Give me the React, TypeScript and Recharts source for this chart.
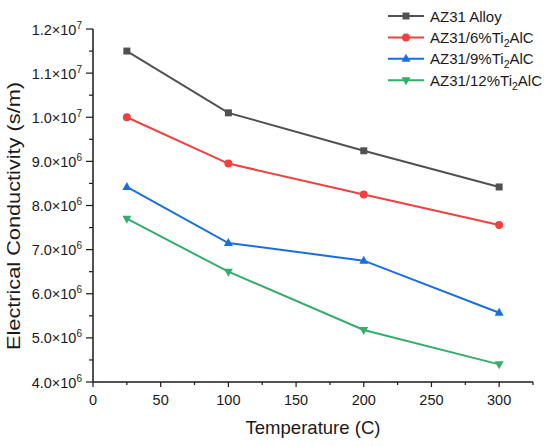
import { LineChart, Line, XAxis, YAxis } from "recharts";

const temperatures = [25, 100, 200, 300];
const alloy = [1.15e7, 1.01e7, 9.24e6, 8.42e6];
const ti6 = [1.0e7, 8.95e6, 8.25e6, 7.56e6];
const ti9 = [8.42e6, 7.15e6, 6.75e6, 5.57e6];
const ti12 = [7.7e6, 6.5e6, 5.18e6, 4.4e6];

const xTicks = [0, 25, 50, 75, 100, 125, 150, 175, 200, 225, 250, 275, 300, 325];
const yTicks = [
  4e6, 4.5e6, 5e6, 5.5e6, 6e6, 6.5e6, 7e6, 7.5e6, 8e6, 8.5e6, 9e6, 9.5e6,
  1e7, 1.05e7, 1.1e7, 1.15e7, 1.2e7,
];

const series = [
  { key: "alloy", name: "AZ31 Alloy", sub: false, color: "#515151", shape: "square" },
  { key: "ti6", name: "AZ31/6%Ti", sub: true, color: "#F14040", shape: "circle" },
  { key: "ti9", name: "AZ31/9%Ti", sub: true, color: "#1A6FDF", shape: "up" },
  { key: "ti12", name: "AZ31/12%Ti", sub: true, color: "#37AD6B", shape: "down" },
];

const data = temperatures.map((t, i) => ({
  t,
  alloy: alloy[i],
  ti6: ti6[i],
  ti9: ti9[i],
  ti12: ti12[i],
}));

const FONT = "'Liberation Sans', Arial, sans-serif";
const INK = "#1a1a1a";

function Marker({ cx, cy, shape, color }: { cx: number; cy: number; shape: string; color: string }) {
  if (shape === "square") {
    return <rect x={cx - 3.5} y={cy - 3.5} width={7} height={7} fill={color} />;
  }
  if (shape === "circle") {
    return <circle cx={cx} cy={cy} r={4} fill={color} />;
  }
  if (shape === "up") {
    return <path d={`M${cx},${cy - 5}L${cx + 4.5},${cy + 3}L${cx - 4.5},${cy + 3}Z`} fill={color} />;
  }
  return <path d={`M${cx},${cy + 5}L${cx + 4.5},${cy - 3}L${cx - 4.5},${cy - 3}Z`} fill={color} />;
}

const XTick = ({ x, y, payload }: any) => {
  const v = payload.value;
  const major = v % 50 === 0;
  return (
    <g>
      <line x1={x} y1={y} x2={x} y2={y + (major ? 5 : 3)} stroke={INK} strokeWidth={1.2} />
      {major && v <= 300 && (
        <text x={x} y={y + 23} textAnchor="middle" fontSize={14.5} fontFamily={FONT} fill={INK}>
          {v}
        </text>
      )}
    </g>
  );
};

const YTick = ({ x, y, payload }: any) => {
  const v = payload.value;
  const major = Math.round(v / 1e5) % 10 === 0;
  const exp = Math.floor(Math.log10(v) + 1e-9);
  const mant = (v / Math.pow(10, exp)).toFixed(1);
  return (
    <g>
      <line x1={x - (major ? 7 : 4)} y1={y} x2={x} y2={y} stroke={INK} strokeWidth={1.2} />
      {major && (
        <text x={x - 11} y={y + 5.5} textAnchor="end" fontSize={14.5} fontFamily={FONT} fill={INK}>
          {mant}×10
          <tspan dy={-6} fontSize={10}>
            {exp}
          </tspan>
        </text>
      )}
    </g>
  );
};

const XTitle = () => (
  <text
    x={313}
    y={434}
    textAnchor="middle"
    fontSize={18.5}
    fontFamily={FONT}
    fill={INK}
    textLength={135}
    lengthAdjust="spacingAndGlyphs"
  >
    Temperature (C)
  </text>
);

const YTitle = () => (
  <text
    transform="translate(20,216) rotate(-90)"
    textAnchor="middle"
    fontSize={18}
    fontFamily={FONT}
    fill={INK}
    textLength={268}
    lengthAdjust="spacingAndGlyphs"
  >
    Electrical Conductivity (s/m)
  </text>
);

const LegendBox = () => (
  <svg width={165} height={92} style={{ display: "block" }}>
    {series.map((s, i) => {
      const y = 10 + i * 21.4;
      return (
        <g key={s.key}>
          <line x1={1} y1={y} x2={37} y2={y} stroke={s.color} strokeWidth={2} />
          <Marker cx={19} cy={y} shape={s.shape} color={s.color} />
          <text x={43} y={y + 5.5} fontSize={15} fontFamily={FONT} fill={INK}>
            {s.name}
            {s.sub && (
              <>
                <tspan dy={4} fontSize={10.5}>
                  2
                </tspan>
                <tspan dy={-4}>AlC</tspan>
              </>
            )}
          </text>
        </g>
      );
    })}
  </svg>
);

export default function App() {
  return (
    <div style={{ position: "absolute", left: 0, top: 0, width: 550, height: 446, background: "#fff" }}>
      <LineChart
        width={550}
        height={446}
        data={data}
        margin={{ top: 29, right: 17, bottom: 0, left: 0 }}
      >
        <XAxis
          dataKey="t"
          type="number"
          domain={[0, 325]}
          ticks={xTicks}
          interval={0}
          tick={<XTick />}
          tickSize={0}
          tickMargin={0}
          tickLine={false}
          height={64}
          axisLine={{ stroke: INK, strokeWidth: 1.5 }}
          label={<XTitle />}
        />
        <YAxis
          type="number"
          domain={[4e6, 1.2e7]}
          ticks={yTicks}
          interval={0}
          tick={<YTick />}
          tickSize={0}
          tickMargin={0}
          tickLine={false}
          width={93}
          axisLine={{ stroke: INK, strokeWidth: 1.5 }}
          label={<YTitle />}
        />
        {series.map((s) => (
          <Line
            key={s.key}
            dataKey={s.key}
            name={s.name}
            stroke={s.color}
            strokeWidth={2}
            isAnimationActive={false}
            dot={(p: any) => (
              <Marker key={`${s.key}-${p.index}`} cx={p.cx} cy={p.cy} shape={s.shape} color={s.color} />
            )}
            activeDot={false}
          />
        ))}
      </LineChart>
      <div style={{ position: "absolute", left: 387, top: 6 }}>
        <LegendBox />
      </div>
    </div>
  );
}
